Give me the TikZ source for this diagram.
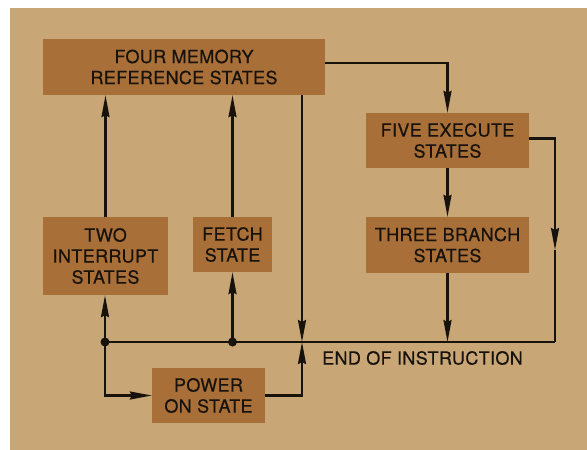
\documentclass[tikz,border=0pt]{standalone}
\usepackage{fontspec}
\setmainfont{TeX Gyre Heros}[FakeBold=0.5,LetterSpace=2]
\usetikzlibrary{arrows.meta}
\definecolor{paper}{RGB}{201,166,118}
\definecolor{boxfill}{RGB}{168,112,56}
\definecolor{ink}{RGB}{24,18,12}
\begin{document}
\begin{tikzpicture}[x=1pt,y=-1pt,
  statebox/.style={fill=boxfill,draw=none,inner sep=0pt,align=center,text=ink,
    font=\fontsize{18}{21}\selectfont},
  conn/.style={draw=ink,line width=2.1pt},
  arr/.style={conn,-{Stealth[length=22pt,width=8pt,inset=2pt]}},
  dot/.style={circle,fill=ink,inner sep=0pt,minimum size=9pt}]
\useasboundingbox (0,0) rectangle (587,450);
\fill[white] (0,0) rectangle (587,450);
\fill[paper] (10,8) rectangle (587,450);
% boxes
\node[statebox,minimum width=282pt,minimum height=56pt] (four) at (184,67) {FOUR MEMORY\\REFERENCE STATES};
\node[statebox,minimum width=125pt,minimum height=78pt] (two) at (105.5,256) {TWO\\INTERRUPT\\STATES};
\node[statebox,minimum width=79pt,minimum height=55pt] (fetch) at (232.5,244.5) {FETCH\\STATE};
\node[statebox,minimum width=113pt,minimum height=55pt] (power) at (208.5,395.5) {POWER\\ON STATE};
\node[statebox,minimum width=163pt,minimum height=55pt] (five) at (447.5,140.5) {FIVE EXECUTE\\STATES};
\node[statebox,minimum width=163pt,minimum height=56pt] (three) at (447.5,245) {THREE BRANCH\\STATES};
\node[text=ink,font=\fontsize{18}{21}\selectfont,anchor=west,inner sep=0pt] (eoi) at (322,358) {END OF INSTRUCTION};
% coordinates
\coordinate (busL) at (105,342);
\coordinate (busF) at (232.5,342);
\coordinate (bj) at (302,342);
\coordinate (busR) at (555,342);
\coordinate (rmid) at (555,250);
% bus
\draw[conn] (busL) -- (busR);
% up arrows
\draw[arr] (busL) -- (busL |- two.south);
\draw[arr] (two.north) -- (two.north |- four.south);
\draw[arr] (busF) -- (fetch.south);
\draw[arr] (fetch.north) -- (fetch.north |- four.south);
% power on
\draw[arr] (busL) |- (power.west);
\draw[arr] (power.east) -| (bj);
\draw[arr] (bj |- four.south) -- (bj);
% execute path
\draw[arr] ([yshift=4pt]four.east) -| (five.north);
\draw[arr] (five.south) -- (three.north);
\draw[arr] (three.south) -- (three.south |- busR);
\draw[arr] ([yshift=2pt]five.east) -| (rmid);
\draw[conn] (rmid) -- (busR);
% dots
\node[dot] (d1) at (busL) {};
\node[dot] (d2) at (busF) {};
\end{tikzpicture}
\end{document}
